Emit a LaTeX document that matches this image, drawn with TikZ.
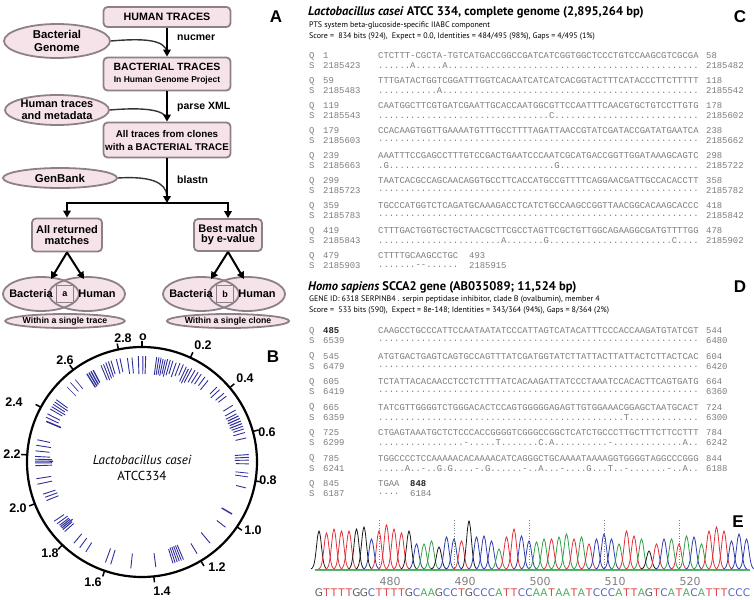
\documentclass[tikz,border=0pt]{standalone}
\usepackage{fontspec}
\setmainfont{Liberation Sans}
\newfontfamily\ptsans{PT Sans}
\newfontfamily\monof{Liberation Mono}
\newfontfamily\dvs{DejaVu Sans}
\usetikzlibrary{arrows.meta,shapes.geometric}
\ExplSyntaxOn
\cs_new:Npn \rdots #1 { \prg_replicate:nn {#1} {.} }
\ExplSyntaxOff
\definecolor{pinkfill}{HTML}{F6E3EA}
\definecolor{boxline}{HTML}{8E8089}
\definecolor{seqgray}{HTML}{7C7C7C}
\definecolor{hitblue}{HTML}{30309C}
\definecolor{colA}{HTML}{2FA048}
\definecolor{colC}{HTML}{2E3CB0}
\definecolor{colG}{HTML}{1A1A1A}
\definecolor{colT}{HTML}{E0303A}
\definecolor{txtA}{HTML}{4CAF60}
\definecolor{txtC}{HTML}{5563C0}
\definecolor{txtG}{HTML}{606060}
\definecolor{txtT}{HTML}{E04848}
\begin{document}
\begin{tikzpicture}[x=1pt,y=-1pt,
  box/.style={draw=boxline, line width=1.8pt, fill=pinkfill, rounded corners=4pt, align=center, inner sep=1pt},
  ell/.style={draw=boxline, line width=1.8pt, fill=pinkfill, ellipse, align=center, inner sep=0pt},
  flow/.style={line width=2.4pt, -{Triangle[length=7pt,width=7.5pt]}},
  feed/.style={line width=1.4pt, draw=black!80},
  lbl/.style={font=\bfseries\fontsize{10.5}{12}\selectfont, anchor=west, inner sep=0},
  panel/.style={font=\bfseries\fontsize{17}{17}\selectfont, inner sep=0},
  cl/.style={font=\bfseries\fontsize{12.5}{13}\selectfont, inner sep=0},
  qs/.style={font=\monof\fontsize{8.9}{9}\selectfont, text=seqgray, inner sep=0, anchor=west},
  hit/.style={draw=hitblue, line width=0.9pt},
  vennbox/.style={draw=boxline, line width=1.6pt, fill=pinkfill, minimum size=17pt, inner sep=0, font=\bfseries\fontsize{9}{9}\selectfont},
  vtxt/.style={font=\bfseries\fontsize{11}{11}\selectfont, inner sep=0},
]
\useasboundingbox (0,0) rectangle (754,599);

% ---------------- Panel A ----------------
\node[box, minimum width=127pt, minimum height=20pt, font=\bfseries\fontsize{10.7}{12}\selectfont] (ht) at (167,17) {HUMAN TRACES};
\node[box, minimum width=127pt, minimum height=33pt, font=\bfseries] (bt) at (167,74) {{\fontsize{10.5}{12}\selectfont BACTERIAL TRACES}\\[0pt]{\fontsize{8.5}{10}\selectfont In Human Genome Project}};
\node[box, minimum width=127pt, minimum height=35pt, font=\bfseries\fontsize{9.8}{13}\selectfont] (at) at (167,140) {All traces from clones\\with a BACTERIAL TRACE};
\node[ell, minimum width=106pt, minimum height=34pt, font=\bfseries\fontsize{11.4}{13}\selectfont] (bg) at (57,41) {Bacterial\\Genome};
\node[ell, minimum width=104pt, minimum height=30pt, font=\bfseries\fontsize{11}{12}\selectfont] (hm) at (57,110) {Human traces\\and metadata};
\node[ell, minimum width=114pt, minimum height=20pt, font=\bfseries\fontsize{11.4}{12}\selectfont] (gb) at (60,178) {GenBank};

\coordinate (j1) at (167,52);
\coordinate (j2) at (167,119);
\coordinate (j3) at (167,196);
\draw[feed] (bg.east) .. controls (145,38) and (165,40) .. (j1);
\draw[feed] (hm.east) .. controls (145,107) and (165,110) .. (j2);
\draw[feed] (gb.east) .. controls (150,176) and (166,182) .. (j3);

\draw[flow] (ht.south) -- (bt.north);
\draw[flow] (bt.south) -- (at.north);
\coordinate (split) at (167,203);
\draw[flow] (at.south) -- (split);

\node[lbl] (lnuc) at (177,38) {nucmer};
\node[lbl] (lxml) at (177,107) {parse XML};
\node[lbl] (lbla) at (177,180) {blastn};

\node[box, minimum width=70pt, minimum height=33pt, font=\bfseries\fontsize{11}{11}\selectfont] (arm) at (67,235) {All returned\\matches};
\node[box, minimum width=68pt, minimum height=32pt, font=\bfseries\fontsize{11}{10}\selectfont] (bm) at (228,235) {Best match\\by e-value};
\draw[line width=2.4pt] (67,203) -- (228,203);
\draw[flow] (split) -| (arm.north);
\draw[flow] (split) -| (bm.north);

% Venn a
\fill[pinkfill] (41,294) ellipse [x radius=38, y radius=17];
\fill[pinkfill] (87,294) ellipse [x radius=38, y radius=17];
\draw[boxline, line width=1.8pt] (41,294) ellipse [x radius=38, y radius=17];
\draw[boxline, line width=1.8pt] (87,294) ellipse [x radius=38, y radius=17];
\node[vennbox] (sa) at (65,294) {a};
\node[vtxt] (bacA) at (31,294) {Bacteria};
\node[vtxt] (humA) at (97,294) {Human};
\coordinate (vaL) at (51,279);
\coordinate (vaR) at (84,279);
\draw[flow, line width=2pt] (arm.south) -- (vaL);
\draw[flow, line width=2pt] (arm.south) -- (vaR);
\node[ell, minimum width=114pt, minimum height=14pt, font=\bfseries\fontsize{8.7}{9}\selectfont] (wta) at (65,321) {Within a single trace};

% Venn b
\fill[pinkfill] (201,294) ellipse [x radius=38, y radius=17];
\fill[pinkfill] (247,294) ellipse [x radius=38, y radius=17];
\draw[boxline, line width=1.8pt] (201,294) ellipse [x radius=38, y radius=17];
\draw[boxline, line width=1.8pt] (247,294) ellipse [x radius=38, y radius=17];
\node[vennbox] (sb) at (225,294) {b};
\node[vtxt] (bacB) at (191,294) {Bacteria};
\node[vtxt] (humB) at (257,294) {Human};
\coordinate (vbL) at (211,279);
\coordinate (vbR) at (244,279);
\draw[flow, line width=2pt] (bm.south) -- (vbL);
\draw[flow, line width=2pt] (bm.south) -- (vbR);
\node[ell, minimum width=114pt, minimum height=14pt, font=\bfseries\fontsize{8.7}{9}\selectfont] (wtb) at (228,321) {Within a single clone};

% panel letters
\node[panel] (pA) at (276,17) {A};
\node[panel] (pB) at (273,357) {B};
\node[panel] (pC) at (740,17) {C};
\node[panel] (pD) at (740,287) {D};
\node[panel] (pE) at (738,522) {E};

% ---------------- Panel B ----------------
\node[circle, draw, line width=2.2pt, minimum size=230pt, inner sep=0] (gen) at (142,462) {};
\begin{scope}[shift={(142,462)}]
\foreach \v in {0,0.2,0.4,0.6,0.8,1.0,1.2,1.4,1.6,1.8,2.0,2.2,2.4,2.6,2.8}{
  \pgfmathsetmacro\ang{\v/2.895*360-90}
  \draw[line width=1.5pt] (\ang:115) -- (\ang:121);
}
\foreach \a/\ri/\ro/\w in {358/88/106/0.9, 0.5/88/106/0.9, 2/88/106/0.9,
 352/89/105/0.9, 354.5/89/105/0.9, 346/91/106/0.9, 348/92/106/0.9,
 337/89/105/0.9, 338.5/88/105/0.9, 340/89/106/0.9, 341.5/90/106/0.9, 343/92/106/0.9,
 328/88/104/1.3, 329.3/88/104/1.3, 330.6/89/104/1.3, 332/90/104/1.3,
 315/93/106/0.7, 318/95/107/0.7, 321/94/106/0.7,
 8/88/106/0.9, 9.2/88/106/0.9, 10.4/89/106/0.9, 11.6/88/105/0.9, 12.8/90/105/0.9, 14/88/106/0.9,
 15.5/90/106/0.9, 17/92/106/0.9, 19/90/105/0.9, 21/92/106/0.9, 23/94/106/0.9, 25/89/105/0.9,
 26.5/88/104/0.9, 28/90/106/0.9, 30/92/106/0.9, 32/93/106/0.9, 34/94/106/0.9, 36.5/95/106/0.9, 39/93/105/0.9,
 45/96/106/0.9, 47/94/106/0.9, 50/96/107/0.9, 52/97/107/0.9,
 58/96/107/0.9, 61/95/107/0.9, 63/94/106/0.9, 64.5/95/107/1.1, 66/94/107/1.1, 67.5/95/107/1.1,
 69/94/107/1.1, 70.5/95/107/0.9, 72/96/107/0.9, 74/95/107/0.9, 77/96/107/0.9,
 86/93/107/0.9, 87.5/93/107/0.9, 89/93/107/0.9, 91/94/107/0.9, 96/94/107/0.8, 98/94/107/0.8,
 104/97/107/0.9, 120/92/104/1.4, 128/95/106/0.9, 140/92/106/0.9, 149/95/107/0.9,
 157/90/106/0.9, 158.2/90/106/0.9, 159.4/90/106/0.9, 160.6/90/106/0.9, 161.8/90/106/0.9, 163/91/106/0.9,
 172.5/92/106/0.9, 186/92/107/0.9, 197/92/107/0.9, 200/92/107/0.9,
 212/95/106/0.9, 216/94/106/0.9, 220/94/106/0.9,
 228/92/104/0.9, 229.5/92/104/1.1, 230.5/90/104/1.1, 231.5/92/104/1.1, 232.5/92/104/0.9, 234/92/105/0.9, 236/94/106/0.9,
 248/90/103/0.9, 250/90/103/0.9, 252/91/104/0.9, 258/92/107/0.9, 261/92/107/0.9,
 268/90/107/0.9, 269.5/90/107/1.1, 270.5/89/107/1.1, 271.5/90/107/0.9, 273/92/107/0.9,
 276/93/107/0.9, 279/92/107/0.9, 282/94/107/0.9,
 293/88/104/1.5, 295/92/106/0.9, 297/92/106/0.9,
 300/92/106/0.9, 301.5/90/106/0.9, 303/92/106/0.9, 304.5/90/106/0.9, 306/92/106/0.9}{
  \draw[hit, line width=\w pt] ({\a-90}:\ri) -- ({\a-90}:\ro);
}
\end{scope}
\node[cl] (t00) at (143,337) {o};
\node[cl] (t28) at (123,338) {2.8};
\node[cl] (t02) at (203,345) {0.2};
\node[cl] (t26) at (65,360) {2.6};
\node[cl] (t04) at (245,378) {0.4};
\node[cl] (t24) at (14,402) {2.4};
\node[cl] (t06) at (267,432) {0.6};
\node[cl] (t22) at (12,454) {2.2};
\node[cl] (t08) at (268,480) {0.8};
\node[cl] (t20) at (18,508) {2.0};
\node[cl] (t10) at (253,530) {1.0};
\node[cl] (t18) at (50,553) {1.8};
\node[cl] (t12) at (217,567) {1.2};
\node[cl] (t16) at (93,582) {1.6};
\node[cl] (t14) at (162,591) {1.4};
\node[font=\ptsans\itshape\fontsize{13}{14}\selectfont, inner sep=0] (orgA) at (142,460) {Lactobacillus casei};
\node[font=\ptsans\fontsize{13}{14}\selectfont, inner sep=0] (orgB) at (142,476) {ATCC334};

% ---------------- Panel C ----------------
\node[font=\ptsans\bfseries\fontsize{12.5}{14}\selectfont, anchor=west, inner sep=0] (ctitle) at (308,12) {\textit{Lactobacillus casei} ATCC 334, complete genome (2,895,264 bp)};
\node[font=\ptsans\fontsize{8}{9}\selectfont, anchor=west, inner sep=0] (csub) at (309,26) {PTS system beta-glucoside-specific IIABC component};
\node[font=\ptsans\fontsize{8}{9}\selectfont, anchor=west, inner sep=0] (cscore) at (309,37) {Score =\ \ 834 bits (924),\ \ Expect = 0.0, Identities = 484/495 (98\%), Gaps = 4/495 (1\%)};
\foreach \qn/\qq/\qe/\sn/\sq/\se [count=\k from 0] in {
 1/CTCTTT-CGCTA-TGTCATGACCGGCCGATCATCGGTGGCTCCCTGTCCAAGCGTCGCGA/58/2185423/{\rdots{6}A\rdots{5}A\rdots{47}}/2185482,
 59/TTTGATACTGGTCGGATTTGGTCACAATCATCATCACGGTACTTTCATACCCTTCTTTTT/118/2185483/{\rdots{11}A\rdots{48}}/2185542,
 119/CAATGGCTTCGTGATCGAATTGCACCAATGGCGTTCCAATTTCAACGTGCTGTCCTTGTG/178/2185543/{\rdots{32}C\rdots{27}}/2185602,
 179/CCACAAGTGGTTGAAAATGTTTGCCTTTTAGATTAACCGTATCGATACCGATATGAATCA/238/2185603/{\rdots{60}}/2185662,
 239/AAATTTCCGAGCCTTTGTCCGACTGAATCCCAATCGCATGACCGGTTGGATAAAGCAGTC/298/2185663/{.G\rdots{31}G\rdots{26}}/2185722,
 299/TAATCACGCCAGCAACAGGTGCCTTCACCATGCCGTTTTCAGGAACGATTGCCACACCTT/358/2185723/{\rdots{60}}/2185782,
 359/TGCCCATGGTCTCAGATGCAAAGACCTCATCTGCCAAGCCGGTTAACGGCACAAGCACCC/418/2185783/{\rdots{60}}/2185842,
 419/CTTTGACTGGTGCTGCTAACGCTTCGCCTAGTTCGCTGTTGGCAGAAGGCGATGTTTTGG/478/2185843/{\rdots{23}A\rdots{7}G\rdots{23}C\rdots{4}}/2185902}{
  \pgfmathsetmacro\yq{56+25*\k}
  \node[qs] (cQ\k) at (309,\yq) {Q};
  \node[qs] (cQn\k) at (323,\yq) {\qn};
  \node[qs] (cQs\k) at (378,\yq) {\qq};
  \node[qs] (cQe\k) at (706,\yq) {\qe};
  \node[qs] (cS\k) at (309,\yq+10) {S};
  \node[qs] (cSn\k) at (323,\yq+10) {\sn};
  \node[qs] (cSs\k) at (378,\yq+10) {\sq};
  \node[qs] (cSe\k) at (706,\yq+10) {\se};
}
\node[qs] (cQ8) at (309,256) {Q};
\node[qs] (cQn8) at (323,256) {479};
\node[qs] (cQs8) at (378,256) {CTTTTGCAAGCCTGC};
\node[qs] (cQe8) at (469,256) {493};
\node[qs] (cS8) at (309,266) {S};
\node[qs] (cSn8) at (323,266) {2185903};
\node[qs] (cSs8) at (378,266) {\rdots{7}\mbox{-}\mbox{-}\rdots{6}};
\node[qs] (cSe8) at (469,266) {2185915};

% ---------------- Panel D ----------------
\node[font=\ptsans\bfseries\fontsize{12.5}{14}\selectfont, anchor=west, inner sep=0] (dtitle) at (308,287) {\textit{Homo sapiens} SCCA2 gene (AB035089; 11,524 bp)};
\node[font=\ptsans\fontsize{8}{9}\selectfont, anchor=west, inner sep=0] (dsub) at (309,300) {GENE ID: 6318 SERPINB4 . serpin peptidase inhibitor, clade B (ovalbumin), member 4};
\node[font=\ptsans\fontsize{8}{9}\selectfont, anchor=west, inner sep=0] (dscore) at (309,311) {Score =\ \ 533 bits (590),\ \ Expect = 8e-148; Identities = 343/364 (94\%), Gaps = 8/364 (2\%)};
\foreach \qn/\qq/\qe/\sn/\sq/\se [count=\k from 0] in {
 {\textcolor{black!85}{\bfseries 485}}/CAAGCCTGCCCATTCCAATAATATCCCATTAGTCATACATTTCCCACCAAGATGTATCGT/544/6539/{\rdots{60}}/6480,
 545/ATGTGACTGAGTCAGTGCCAGTTTATCGATGGTATCTTATTACTTATTACTCTTACTCAC/604/6479/{\rdots{60}}/6420,
 605/TCTATTACACAACCTCCTCTTTTATCACAAGATTATCCCTAAATCCACACTTCAGTGATG/664/6419/{\rdots{60}}/6360,
 665/TATCGTTGGGGTCTGGGACACTCCAGTGGGGGAGAGTTGTGGAAACGGAGCTAATGCACT/724/6359/{\rdots{46}T\rdots{13}}/6300,
 725/CTGAGTAAATGCTCTCCCACCGGGGTCGGGCCGGCTCATCTGCCCTTGCTTTCTTCCTTT/784/6299/{\rdots{16}-\rdots{5}T\rdots{7}C.A\rdots{10}-\rdots{13}A\rdots{2}}/6242,
 785/TGGCCCCTCCAAAAACACAAAACATCAGGGCTGCAAAATAAAAGGTGGGGTAGGCCCGGG/844/6241/{\rdots{5}A\rdots{2}-\rdots{2}G.G\rdots{4}-.G\rdots{6}-\rdots{2}A\rdots{3}-\rdots{4}G\rdots{3}T\rdots{2}-\rdots{7}-\rdots{2}A\rdots{2}}/6188}{
  \pgfmathsetmacro\yq{331+25.5*\k}
  \node[qs] (dQ\k) at (309,\yq) {Q};
  \node[qs] (dQn\k) at (323,\yq) {\qn};
  \node[qs] (dQs\k) at (378,\yq) {\qq};
  \node[qs] (dQe\k) at (706,\yq) {\qe};
  \node[qs] (dS\k) at (309,\yq+10) {S};
  \node[qs] (dSn\k) at (323,\yq+10) {\sn};
  \node[qs] (dSs\k) at (378,\yq+10) {\sq};
  \node[qs] (dSe\k) at (706,\yq+10) {\se};
}
\node[qs] (dQ6) at (309,484) {Q};
\node[qs] (dQn6) at (323,484) {845};
\node[qs] (dQs6) at (378,484) {TGAA};
\node[qs] (dQe6) at (410,484) {\textcolor{black!85}{\bfseries 848}};
\node[qs] (dS6) at (309,494) {S};
\node[qs] (dSn6) at (323,494) {6187};
\node[qs] (dSs6) at (378,494) {\rdots{4}};
\node[qs] (dSe6) at (410,494) {6184};

% ---------------- Panel E ----------------
\draw[colT!80, line width=0.6pt] (315,569) -- (750,569);
\draw[colA!80, line width=0.5pt] (315,570) -- (750,570);
\foreach \px in {379,454,529,604,679}{
  \draw[gray, dotted, line width=0.6pt] (\px,520) -- (\px,569);
}
\foreach \b/\h [count=\i from 0] in {G/38,T/36,T/40,T/38,T/38,G/40,G/42,C/30,T/38,T/44,T/40,T/36,G/38,C/25,A/25,A/28,G/22,C/32,C/30,T/28,G/48,C/32,C/33,C/28,A/20,T/32,T/40,C/33,C/28,A/27,A/30,T/30,A/32,A/35,T/30,A/32,T/25,C/30,C/35,C/30,A/25,T/38,T/33,A/30,G/18,T/25,C/30,A/30,T/25,A/33,C/32,A/25,T/38,T/42,T/38,C/28,C/35,C/30}{
  \pgfmathsetmacro\xc{319+7.5*\i}
  \draw[col\b, line width=0.8pt] plot[smooth, domain=-8:8, samples=13] ({\xc+\x},{569-\h*exp(-((\x)*(\x))/12)});
  \node[font=\dvs\fontsize{10.5}{11}\selectfont, text=txt\b, inner sep=0] (sq\i) at (\xc,593) {\b};
}
\foreach \px/\nn in {379/480,454/490,529/500,604/510,679/520}{
  \node[font=\dvs\fontsize{11}{11}\selectfont, text=gray, inner sep=0] (n\nn) at (\px+11,581) {\nn};
}
\end{tikzpicture}
\end{document}
